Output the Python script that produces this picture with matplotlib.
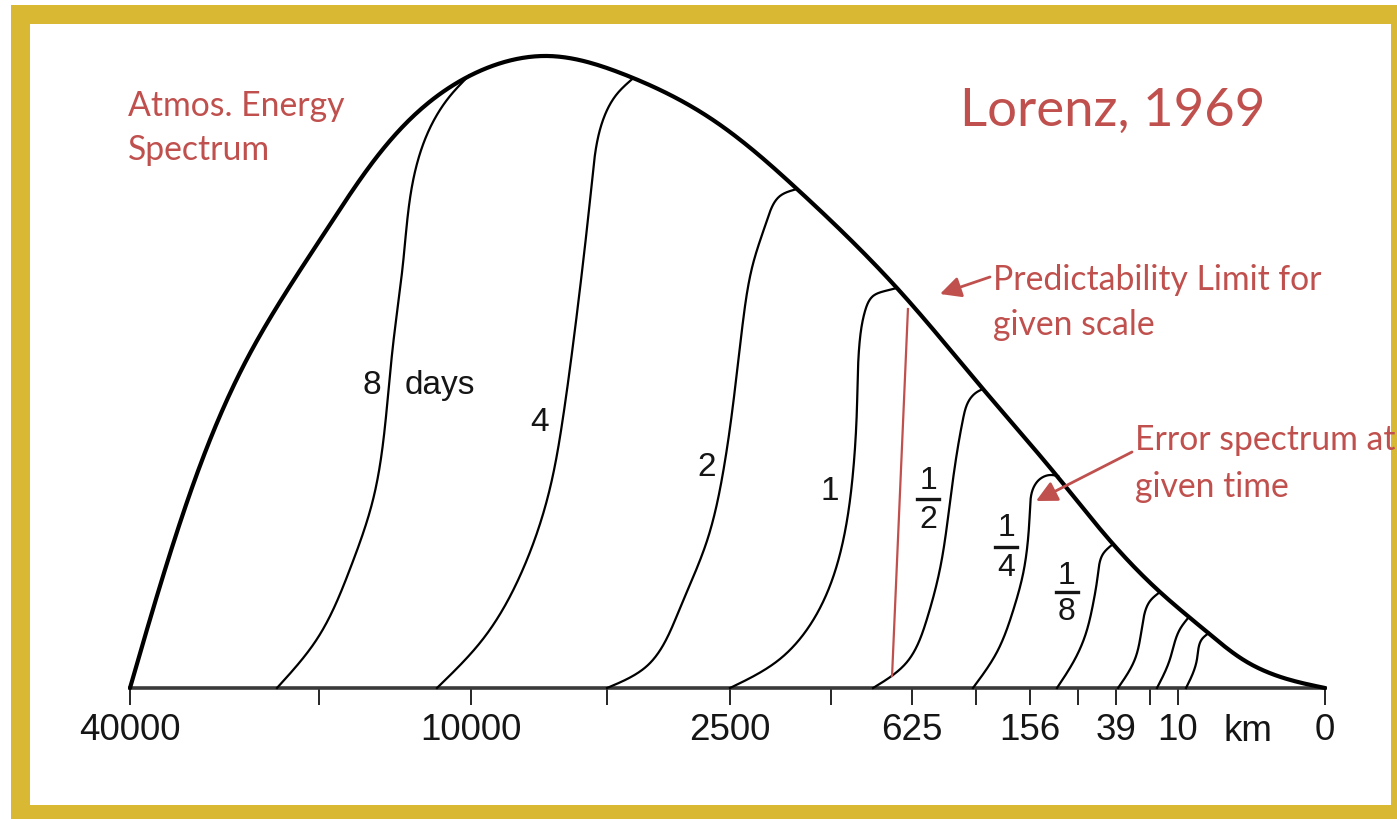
import numpy as np
import matplotlib
matplotlib.use("Agg")
import matplotlib.pyplot as plt
from matplotlib.patches import Rectangle, FancyArrowPatch
from matplotlib.lines import Line2D

# ---------------- data (abscissa position 0..100, energy 0..100) ----------------
envelope_x = [0.00, 3.93, 9.79, 16.49, 25.94, 34.90, 41.26, 48.28, 55.82, 64.18,
              71.38, 77.57, 82.26, 86.19, 90.13, 93.47, 96.82, 100.0]
envelope_y = [0.0, 24.80, 52.31, 72.97, 94.44, 100.48, 97.62, 90.94, 79.33, 63.59,
              47.54, 33.70, 22.89, 15.26, 8.90, 4.13, 1.43, 0.0]

error_8_x = [12.30, 15.65, 18.41, 20.33, 21.34, 22.01, 22.85, 23.68, 25.10, 26.78, 28.37]
error_8_y = [0.0, 7.79, 18.92, 29.89, 41.65, 54.53, 67.57, 80.60, 89.03, 94.12, 97.37]
error_4_x = [25.69, 29.54, 32.89, 35.15, 36.23, 37.07, 37.91, 38.66, 39.58, 40.75, 42.09]
error_4_y = [0.0, 7.79, 18.92, 31.80, 42.93, 54.53, 67.57, 80.60, 90.30, 94.44, 96.92]
error_2_x = [39.92, 43.26, 46.03, 48.28, 49.62, 50.46, 51.30, 52.13, 53.31, 54.39, 55.82]
error_2_y = [0.0, 3.50, 12.72, 23.37, 34.18, 44.99, 58.35, 67.41, 74.40, 78.22, 79.33]
error_1_x = [50.21, 54.39, 57.74, 59.67, 60.50, 60.84, 61.09, 61.51, 62.18, 63.18, 64.18]
error_1_y = [0.0, 4.61, 12.72, 23.37, 34.18, 44.99, 55.64, 59.94, 62.32, 63.12, 63.59]
error_h_x = [62.18, 65.02, 66.69, 67.78, 68.62, 69.21, 69.71, 70.29, 70.88, 71.38]
error_h_y = [0.0, 4.13, 10.97, 18.92, 29.57, 37.52, 42.77, 45.95, 47.06, 47.54]
error_q_x = [70.54, 72.55, 73.89, 74.73, 75.15, 75.31, 75.56, 76.15, 76.99, 77.66]
error_q_y = [0.0, 5.72, 12.24, 18.12, 23.69, 28.46, 31.64, 33.23, 33.86, 33.70]
error_e_x = [77.57, 79.08, 79.92, 80.59, 81.00, 81.42, 82.26]
error_e_y = [0.0, 4.61, 8.27, 13.35, 18.12, 21.30, 22.89]
error_s_x = [82.68, 84.10, 84.77, 85.36, 86.19]
error_s_y = [0.0, 4.61, 10.65, 13.83, 15.26]
error_t_x = [85.94, 87.03, 87.87, 88.54]
error_t_y = [0.0, 4.61, 9.38, 11.13]
error_u_x = [88.37, 89.29, 89.71, 90.29]
error_u_y = [0.0, 4.61, 7.79, 8.75]

tick_positions = [0.0, 15.82, 28.54, 39.92, 50.21, 58.66, 65.44, 70.79, 75.31,
                  79.33, 82.51, 85.36, 87.70, 100.0]
tick_labels = ["40000", "", "10000", "", "2500", "", "625", "", "156",
               "", "39", "", "10", "0"]

predictability_line_x = [63.77, 65.10]
predictability_line_y = [1.91, 60.25]

# ---------------- helpers ----------------
ASPECT = 6.29 / 11.95  # y-unit / x-unit in pixels


def _natural(t, v):
    n = len(t)
    h = np.diff(t)
    A = np.zeros((n, n))
    r = np.zeros(n)
    A[0, 0] = 1.0
    A[-1, -1] = 1.0
    for i in range(1, n - 1):
        A[i, i - 1] = h[i - 1]
        A[i, i] = 2 * (h[i - 1] + h[i])
        A[i, i + 1] = h[i]
        r[i] = 6 * ((v[i + 1] - v[i]) / h[i] - (v[i] - v[i - 1]) / h[i - 1])
    return np.linalg.solve(A, r)


def _eval(t, v, M, tt):
    idx = np.clip(np.searchsorted(t, tt) - 1, 0, len(t) - 2)
    h = t[idx + 1] - t[idx]
    a = (t[idx + 1] - tt) / h
    b = (tt - t[idx]) / h
    return (a * v[idx] + b * v[idx + 1]
            + ((a ** 3 - a) * M[idx] + (b ** 3 - b) * M[idx + 1]) * h ** 2 / 6)


def smooth(xs, ys, n=600):
    x = np.asarray(xs, float)
    y = np.asarray(ys, float) * ASPECT
    d = np.hypot(np.diff(x), np.diff(y))
    t = np.concatenate([[0], np.cumsum(d)])
    tt = np.linspace(0, t[-1], n)
    sx = _eval(t, x, _natural(t, x), tt)
    sy = _eval(t, y, _natural(t, y), tt)
    return sx, sy / ASPECT


# ---------------- figure ----------------
W, H = 1397, 820
fig = plt.figure(figsize=(W / 100, H / 100), dpi=100, facecolor="white")

gold = "#D9B934"
red = "#C0504D"
ink = "#151515"

fig.patches.append(Rectangle((11 / W, 0), 1 - 11 / W, 1 - 6 / H,
                             transform=fig.transFigure, facecolor=gold,
                             edgecolor="none", zorder=-10))
fig.patches.append(Rectangle((30 / W, 1 - 806 / H), (1391 - 30) / W, (806 - 25) / H,
                             transform=fig.transFigure, facecolor="white",
                             edgecolor="none", zorder=-9))

ax = fig.add_axes([130 / W, (H - 689) / H, 1195 / W, 629 / H])
ax.set_zorder(1)
ax.set_facecolor("none")
ax.patch.set_alpha(0)
ax.set_xlim(0, 100)
ax.set_ylim(0, 100)
for s in ["left", "right", "top"]:
    ax.spines[s].set_visible(False)
ax.spines["bottom"].set_linewidth(2.6)
ax.spines["bottom"].set_color("#3a3a3a")
ax.set_yticks([])
ax.set_xticks(tick_positions)
ax.set_xticklabels(tick_labels, fontfamily="Liberation Sans", fontsize=26.5, color=ink)
ax.tick_params(axis="x", direction="out", length=12, width=1.3, color=ink, pad=5)

# envelope
ex, ey = smooth(envelope_x, envelope_y)
ax.plot(ex, ey, color="black", lw=3.0, clip_on=False, solid_capstyle="round", zorder=4)

curves = [(error_8_x, error_8_y), (error_4_x, error_4_y), (error_2_x, error_2_y),
          (error_1_x, error_1_y), (error_h_x, error_h_y), (error_q_x, error_q_y),
          (error_e_x, error_e_y), (error_s_x, error_s_y), (error_t_x, error_t_y),
          (error_u_x, error_u_y)]
for cx, cy in curves:
    sx, sy = smooth(cx, cy)
    ax.plot(sx, sy, color="black", lw=1.6, clip_on=False, zorder=3)

# predictability red line
ax.plot(predictability_line_x, predictability_line_y, color=red, lw=1.6,
        clip_on=False, zorder=5)

# curve labels
lab_kw = dict(fontfamily="Liberation Sans", fontsize=24, color=ink,
              ha="center", va="center", zorder=6)
ax.text(20.25, 48.33, "8", **lab_kw)
ax.text(23.0, 48.33, "days", **{**lab_kw, "ha": "left"})
ax.text(34.31, 42.29, "4", **lab_kw)
ax.text(48.28, 35.14, "2", **lab_kw)
ax.text(58.58, 31.32, "1", **lab_kw)

fractions = [(66.78, 33.07, 30.05, 26.87, "1", "2"),
             (73.31, 25.60, 22.42, 19.24, "1", "4"),
             (78.41, 17.97, 15.26, 12.24, "1", "8")]
for fx, ny, by, dy, num, den in fractions:
    ax.text(fx, ny, num, **{**lab_kw, "fontsize": 23})
    ax.text(fx, dy, den, **{**lab_kw, "fontsize": 23})
    ax.add_line(Line2D([fx - 0.95, fx + 0.95], [by, by], color=ink, lw=2.4,
                       clip_on=False, zorder=6))

ax.text(93.55, -6.7, "km", fontfamily="Liberation Sans", fontsize=26.5, color=ink,
        ha="center", va="center", clip_on=False)


# red annotations (figure pixel placement)
def fx_(px):
    return px / W


def fy_(py):
    return 1 - py / H


tkw = dict(fontfamily="Lato", color=red, va="baseline", ha="left", zorder=5)
fig.text(fx_(128), fy_(116), "Atmos. Energy", fontsize=24.3, **tkw)
fig.text(fx_(128), fy_(160), "Spectrum", fontsize=24.3, **tkw)
fig.text(fx_(960), fy_(126), "Lorenz, 1969", fontsize=38, **tkw)
fig.text(fx_(993), fy_(290), "Predictability Limit for", fontsize=24.3, **tkw)
fig.text(fx_(993), fy_(335), "given scale", fontsize=24.3, **tkw)
fig.text(fx_(1135), fy_(450), "Error spectrum at", fontsize=24.3, **tkw)
fig.text(fx_(1135), fy_(497), "given time", fontsize=24.3, **tkw)

arrow_kw = dict(arrowstyle="-|>,head_length=0.9,head_width=0.45", color=red, lw=2.0)
fig.add_artist(FancyArrowPatch(
    (fx_(990), fy_(278)), (fx_(940), fy_(295)), transform=fig.transFigure,
    mutation_scale=14, shrinkA=0, shrinkB=0, zorder=5, **arrow_kw))
fig.add_artist(FancyArrowPatch(
    (fx_(1132), fy_(453)), (fx_(1036), fy_(502)), transform=fig.transFigure,
    mutation_scale=14, shrinkA=0, shrinkB=0, zorder=5, **arrow_kw))

fig.savefig("out.png", dpi=100, facecolor="white")
